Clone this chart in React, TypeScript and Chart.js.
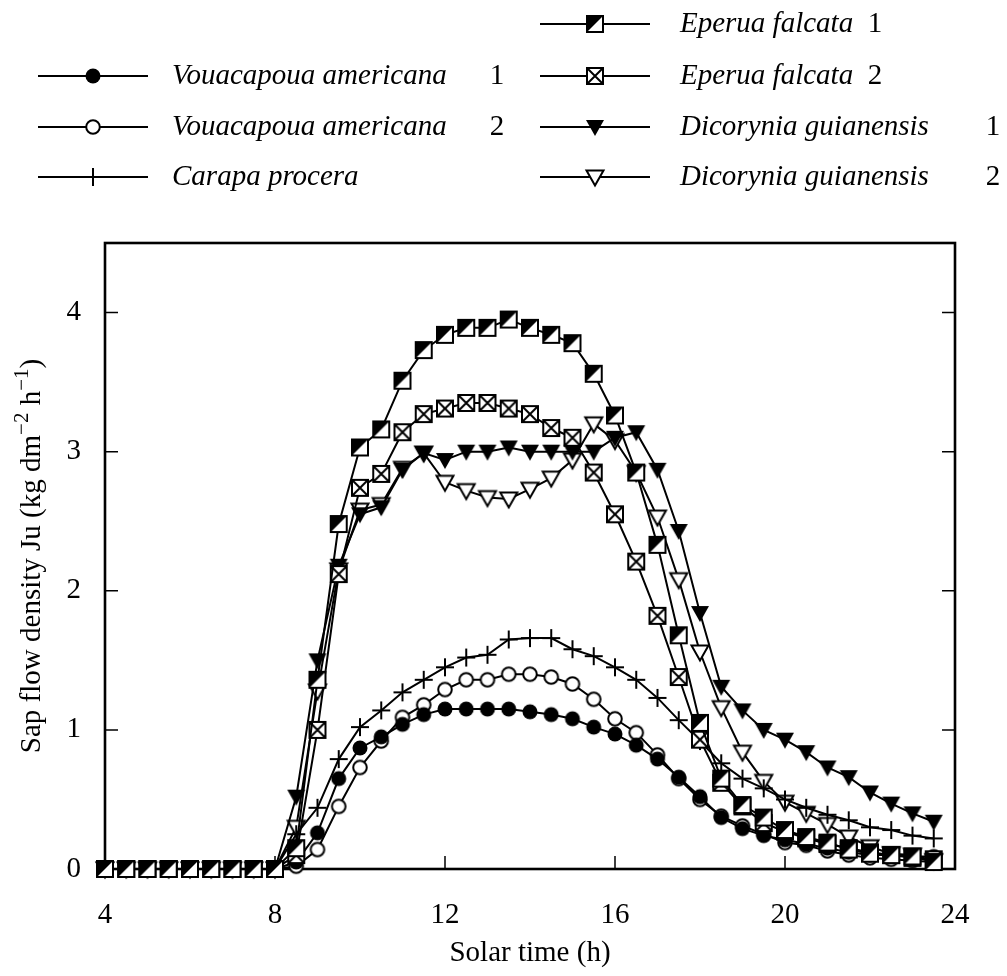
import React, { useEffect, useRef } from 'react';
import { Chart, registerables } from 'chart.js';

Chart.register(...registerables);

// ---------- data ----------
const hours = [
  4, 4.5, 5, 5.5, 6, 6.5, 7, 7.5, 8, 8.5,
  9, 9.5, 10, 10.5, 11, 11.5, 12, 12.5, 13, 13.5,
  14, 14.5, 15, 15.5, 16, 16.5, 17, 17.5, 18, 18.5,
  19, 19.5, 20, 20.5, 21, 21.5, 22, 22.5, 23, 23.5,
];

const vouacapoua1 = [
  0, 0, 0, 0, 0, 0, 0, 0, 0, 0.05,
  0.26, 0.65, 0.87, 0.95, 1.04, 1.11, 1.15, 1.15, 1.15, 1.15,
  1.13, 1.11, 1.08, 1.02, 0.97, 0.89, 0.79, 0.66, 0.52, 0.37,
  0.29, 0.24, 0.21, 0.18, 0.15, 0.12, 0.1, 0.1, 0.09, 0.09,
];
const vouacapoua2 = [
  0, 0, 0, 0, 0, 0, 0, 0, 0, 0.02,
  0.14, 0.45, 0.73, 0.92, 1.09, 1.18, 1.29, 1.36, 1.36, 1.4,
  1.4, 1.38, 1.33, 1.22, 1.08, 0.98, 0.82, 0.65, 0.5, 0.38,
  0.31, 0.25, 0.19, 0.17, 0.13, 0.1, 0.08, 0.07, 0.06, 0.05,
];
const carapa = [
  0, 0, 0, 0, 0, 0, 0, 0, 0, 0.25,
  0.44, 0.79, 1.02, 1.14, 1.27, 1.36, 1.45, 1.52, 1.54, 1.65,
  1.66, 1.66, 1.58, 1.53, 1.45, 1.36, 1.23, 1.07, 0.92, 0.76,
  0.65, 0.58, 0.5, 0.44, 0.39, 0.35, 0.3, 0.28, 0.24, 0.22,
];
const eperua1 = [
  0, 0, 0, 0, 0, 0, 0, 0, 0, 0.15,
  1.36, 2.48, 3.03, 3.16, 3.51, 3.73, 3.84, 3.89, 3.89, 3.95,
  3.89, 3.84, 3.78, 3.56, 3.26, 2.85, 2.33, 1.68, 1.05, 0.65,
  0.46, 0.37, 0.28, 0.23, 0.19, 0.14, 0.11, 0.1, 0.09, 0.05,
];
const eperua2 = [
  0, 0, 0, 0, 0, 0, 0, 0, 0, 0.1,
  1.0, 2.12, 2.74, 2.84, 3.14, 3.27, 3.31, 3.35, 3.35, 3.31,
  3.27, 3.17, 3.1, 2.85, 2.55, 2.21, 1.82, 1.38, 0.93, 0.62,
  0.45, 0.33, 0.27, 0.22, 0.18, 0.15, 0.12, 0.1, 0.08, 0.07,
];
const dicorynia1 = [
  0, 0, 0, 0, 0, 0, 0, 0, 0, 0.52,
  1.5, 2.18, 2.55, 2.6, 2.87, 2.99, 2.94, 3.0, 3.0, 3.03,
  3.0, 3.0, 3.0, 3.0, 3.1, 3.14, 2.87, 2.43, 1.84, 1.31,
  1.14, 1.0, 0.93, 0.84, 0.73, 0.66, 0.55, 0.47, 0.4, 0.34,
];
const dicorynia2 = [
  0, 0, 0, 0, 0, 0, 0, 0, 0, 0.3,
  1.28, 2.15, 2.58, 2.62, 2.88, 2.99, 2.78, 2.72, 2.67, 2.66,
  2.73, 2.81, 2.94, 3.2, 3.08, 2.85, 2.53, 2.08, 1.56, 1.16,
  0.84, 0.63, 0.48, 0.4, 0.32, 0.23, 0.16, 0.11, 0.1, 0.06,
];

const seriesNames = [
  'Vouacapoua americana',
  'Vouacapoua americana',
  'Carapa procera',
  'Eperua falcata',
  'Eperua falcata',
  'Dicorynia guianensis',
  'Dicorynia guianensis',
];
const seriesNumbers = ['1', '2', '', '1', '2', '1', '2'];
const markerKinds = ['dot', 'ring', 'plus', 'half', 'xbox', 'tri', 'otri'];

const xTicks = [4, 8, 12, 16, 20, 24];
const yTicks = [0, 1, 2, 3, 4];
const xTitle = 'Solar time (h)';

const FONT = '"Liberation Serif", "Times New Roman", Times, serif';
const FS = 29;

// ---------- markers ----------
function drawMarker(ctx: CanvasRenderingContext2D, kind: string, m: number, n: number) {
  ctx.save();
  ctx.lineWidth = 2;
  ctx.strokeStyle = '#000';
  ctx.fillStyle = '#000';
  ctx.lineJoin = 'miter';
  const h = 8;
  switch (kind) {
    case 'dot':
      ctx.beginPath();
      ctx.arc(m, n, 7.5, 0, Math.PI * 2);
      ctx.fill();
      break;
    case 'ring':
      ctx.beginPath();
      ctx.arc(m, n, 6.8, 0, Math.PI * 2);
      ctx.fillStyle = '#fff';
      ctx.fill();
      ctx.stroke();
      break;
    case 'plus':
      ctx.beginPath();
      ctx.moveTo(m - 9, n);
      ctx.lineTo(m + 9, n);
      ctx.moveTo(m, n - 9);
      ctx.lineTo(m, n + 9);
      ctx.stroke();
      break;
    case 'half':
      ctx.fillStyle = '#fff';
      ctx.fillRect(m - h, n - h, 2 * h, 2 * h);
      ctx.fillStyle = '#000';
      ctx.beginPath();
      ctx.moveTo(m - h, n - h);
      ctx.lineTo(m + h, n - h);
      ctx.lineTo(m - h, n + h);
      ctx.closePath();
      ctx.fill();
      ctx.strokeRect(m - h, n - h, 2 * h, 2 * h);
      break;
    case 'xbox':
      ctx.fillStyle = '#fff';
      ctx.fillRect(m - h, n - h, 2 * h, 2 * h);
      ctx.strokeRect(m - h, n - h, 2 * h, 2 * h);
      ctx.beginPath();
      ctx.moveTo(m - h, n - h);
      ctx.lineTo(m + h, n + h);
      ctx.moveTo(m + h, n - h);
      ctx.lineTo(m - h, n + h);
      ctx.stroke();
      break;
    case 'tri':
      ctx.beginPath();
      ctx.moveTo(m - 9, n - 7);
      ctx.lineTo(m + 9, n - 7);
      ctx.lineTo(m, n + 9);
      ctx.closePath();
      ctx.fill();
      break;
    case 'otri':
      ctx.beginPath();
      ctx.moveTo(m - 8.5, n - 6.5);
      ctx.lineTo(m + 8.5, n - 6.5);
      ctx.lineTo(m, n + 8.5);
      ctx.closePath();
      ctx.fillStyle = '#fff';
      ctx.fill();
      ctx.stroke();
      break;
  }
  ctx.restore();
}

function makeMarker(kind: string): HTMLCanvasElement {
  const c = document.createElement('canvas');
  c.width = 24;
  c.height = 24;
  const ctx = c.getContext('2d')!;
  drawMarker(ctx, kind, 12, 12);
  return c;
}

// ---------- decorations plugin ----------
const decoPlugin = {
  id: 'deco',
  beforeDatasetsDraw(chart: any) {
    const { ctx, chartArea: a, scales } = chart;
    ctx.save();
    ctx.strokeStyle = '#000';
    ctx.lineWidth = 1.5;
    ctx.beginPath();
    for (const v of xTicks) {
      const x = scales.x.getPixelForValue(v);
      ctx.moveTo(x, a.bottom);
      ctx.lineTo(x, a.bottom - 13);
    }
    for (const v of yTicks) {
      const y = scales.y.getPixelForValue(v);
      ctx.moveTo(a.left, y);
      ctx.lineTo(a.left + 13, y);
      ctx.moveTo(a.right, y);
      ctx.lineTo(a.right - 13, y);
    }
    ctx.stroke();
    ctx.lineWidth = 2.6;
    ctx.strokeRect(a.left, a.top, a.right - a.left, a.bottom - a.top);
    ctx.restore();
  },
  afterDraw(chart: any) {
    const { ctx, chartArea: a } = chart;
    ctx.save();
    ctx.fillStyle = '#000';
    // x title
    ctx.font = `${FS}px ${FONT}`;
    ctx.textAlign = 'center';
    ctx.textBaseline = 'middle';
    ctx.fillText(xTitle, (a.left + a.right) / 2, 953);

    // y title with superscripts
    const segs: [string, boolean][] = [
      ['Sap flow density Ju (kg dm', false],
      ['\u22122', true],
      [' h', false],
      ['\u22121', true],
      [')', false],
    ];
    const supFS = Math.round(FS * 0.72);
    let total = 0;
    for (const [t, sup] of segs) {
      ctx.font = `${sup ? supFS : FS}px ${FONT}`;
      total += ctx.measureText(t).width;
    }
    ctx.translate(30, (a.top + a.bottom) / 2);
    ctx.rotate(-Math.PI / 2);
    ctx.textAlign = 'left';
    ctx.textBaseline = 'alphabetic';
    let px = -total / 2;
    for (const [t, sup] of segs) {
      ctx.font = `${sup ? supFS : FS}px ${FONT}`;
      ctx.fillText(t, px, sup ? -2 : 10);
      px += ctx.measureText(t).width;
    }
    ctx.restore();

    // legend
    ctx.save();
    const rowsY = [24, 76, 127, 177];
    const cols = [
      { lineL: 38, lineR: 148, textX: 172, items: [0, 1, 2], rowStart: 1 },
      { lineL: 540, lineR: 650, textX: 680, items: [3, 4, 5, 6], rowStart: 0 },
    ];
    const numXs: Record<number, number> = { 0: 497, 1: 497, 3: 875, 4: 875, 5: 993, 6: 993 };
    for (const col of cols) {
      col.items.forEach((idx, k) => {
        const y = rowsY[col.rowStart + k];
        ctx.strokeStyle = '#000';
        ctx.lineWidth = 2.2;
        ctx.beginPath();
        ctx.moveTo(col.lineL, y);
        ctx.lineTo(col.lineR, y);
        ctx.stroke();
        drawMarker(ctx, markerKinds[idx], (col.lineL + col.lineR) / 2, y);
        ctx.fillStyle = '#000';
        ctx.textBaseline = 'middle';
        ctx.textAlign = 'left';
        ctx.font = `italic ${FS}px ${FONT}`;
        ctx.fillText(seriesNames[idx], col.textX, y);
        if (seriesNumbers[idx]) {
          ctx.font = `${FS}px ${FONT}`;
          ctx.textAlign = 'center';
          ctx.fillText(seriesNumbers[idx], numXs[idx], y);
        }
      });
    }
    ctx.restore();
  },
};

export default function App() {
  const ref = useRef<HTMLCanvasElement | null>(null);
  useEffect(() => {
    const canvas = ref.current;
    if (!canvas) return;
    const values = [vouacapoua1, vouacapoua2, carapa, eperua1, eperua2, dicorynia1, dicorynia2];
    const orders = [3, 4, 2, 0, 1, 5, 6];
    const datasets = values.map((vals, i) => ({
      label: seriesNames[i] + (seriesNumbers[i] ? ' ' + seriesNumbers[i] : ''),
      data: hours.map((h, j) => ({ x: h, y: vals[j] })),
      borderColor: '#000',
      backgroundColor: '#000',
      borderWidth: 2,
      tension: 0,
      pointStyle: makeMarker(markerKinds[i]),
      pointRadius: 9,
      pointHoverRadius: 9,
      clip: false as const,
      order: orders[i],
    }));
    const chart = new Chart(canvas, {
      type: 'line',
      data: { datasets },
      options: {
        animation: false,
        responsive: false,
        devicePixelRatio: 1,
        layout: { padding: { left: 0, right: 52, top: 243, bottom: 0 } },
        plugins: { legend: { display: false }, tooltip: { enabled: false } },
        scales: {
          x: {
            type: 'linear',
            min: 4,
            max: 24,
            afterBuildTicks: (s: any) => {
              s.ticks = xTicks.map((v) => ({ value: v }));
            },
            afterFit: (s: any) => {
              s.height = 107;
            },
            grid: { display: false },
            border: { display: false },
            ticks: {
              color: '#000',
              font: { family: FONT, size: FS },
              padding: 21,
              maxRotation: 0,
            },
          },
          y: {
            type: 'linear',
            min: 0,
            max: 4.5,
            afterBuildTicks: (s: any) => {
              s.ticks = yTicks.map((v) => ({ value: v }));
            },
            afterFit: (s: any) => {
              s.width = 105;
            },
            grid: { display: false },
            border: { display: false },
            ticks: {
              color: '#000',
              font: { family: FONT, size: FS },
              padding: 16,
            },
          },
        },
      },
      plugins: [decoPlugin],
    });
    return () => chart.destroy();
  }, []);
  return (
    <div style={{ position: 'absolute', left: 0, top: 0, width: 1007, height: 976, background: '#fff' }}>
      <canvas ref={ref} width={1007} height={976} style={{ width: 1007, height: 976, display: 'block' }} />
    </div>
  );
}
